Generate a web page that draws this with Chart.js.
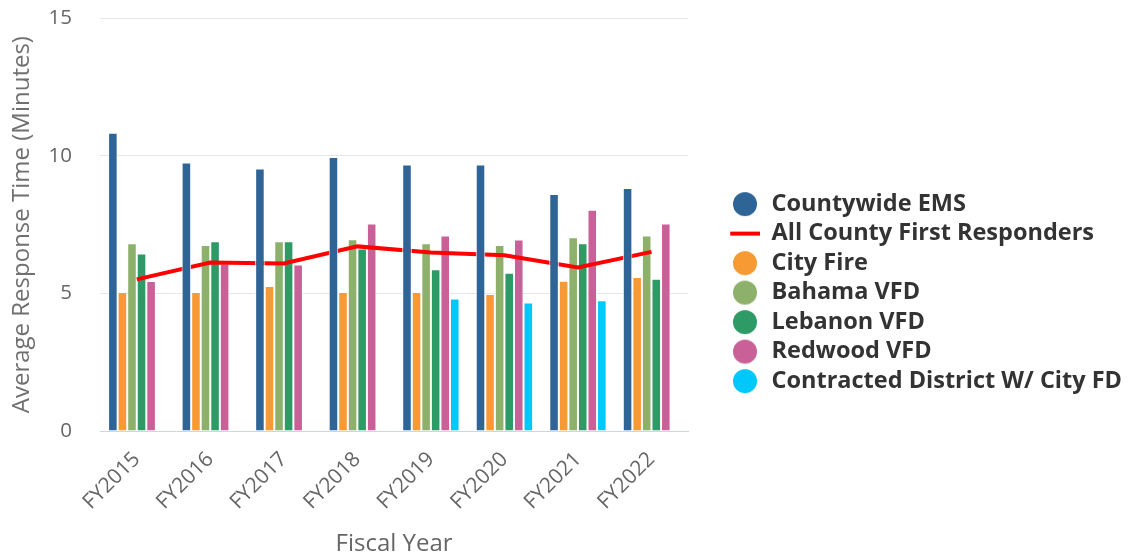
<!DOCTYPE html>
<html>
<head>
<meta charset="utf-8">
<script src="https://cdn.jsdelivr.net/npm/chart.js@4.4.1/dist/chart.umd.min.js"></script>
<style>
    html, body { margin: 0; padding: 0; background: #fff; }
</style>
</head>
<body>
<canvas id="responseChart" width="1132" height="560"></canvas>
<script>
// Chart data
const years = ['FY2015', 'FY2016', 'FY2017', 'FY2018', 'FY2019', 'FY2020', 'FY2021', 'FY2022'];
const countywideEms = [10.84, 9.76, 9.54, 9.96, 9.69, 9.69, 8.61, 8.83];
const allCounty = [5.51, 6.12, 6.09, 6.71, 6.49, 6.39, 5.94, 6.51];
const cityFire = [5.05, 5.05, 5.27, 5.05, 5.05, 4.98, 5.46, 5.60];
const bahamaVfd = [6.82, 6.76, 6.90, 6.97, 6.82, 6.76, 7.04, 7.11];
const lebanonVfd = [6.45, 6.90, 6.90, 6.63, 5.88, 5.75, 6.82, 5.53];
const redwoodVfd = [5.45, 6.09, 6.05, 7.54, 7.11, 6.96, 8.04, 7.54];
const contracted = [null, null, null, null, 4.82, 4.67, 4.75, null];
const yTicks = [0, 5, 10, 15];

Chart.defaults.font.family = "'Open Sans', sans-serif";

// legend markers: circle for bars, short line for the line series
// (drawn slightly left of the canvas centre to leave room before the text)
function makeMarker(color, isLine) {
    const c = document.createElement('canvas');
    c.width = 40;
    c.height = 26;
    const g = c.getContext('2d');
    const cx = 17;
    if (isLine) {
        g.strokeStyle = color;
        g.lineWidth = 4;
        g.beginPath();
        g.moveTo(cx - 15, 13);
        g.lineTo(cx + 15, 13);
        g.stroke();
    } else {
        g.fillStyle = color;
        g.beginPath();
        g.arc(cx, 13, 12, 0, Math.PI * 2);
        g.fill();
    }
    return c;
}

function barSet(label, data, color, order) {
    return {
        type: 'bar',
        label: label,
        data: data,
        backgroundColor: color,
        borderColor: '#ffffff',
        borderWidth: 1,
        barPercentage: 1,
        categoryPercentage: 0.78,
        order: order,
        marker: makeMarker(color, false)
    };
}

const ctx = document.getElementById('responseChart').getContext('2d');

new Chart(ctx, {
    type: 'bar',
    data: {
        labels: years,
        datasets: [
            barSet('Countywide EMS', countywideEms, '#2f6497', 0),
            {
                type: 'line',
                label: 'All County First Responders',
                data: allCounty,
                borderColor: '#ff0000',
                backgroundColor: '#ff0000',
                borderWidth: 4,
                pointRadius: 0,
                tension: 0,
                fill: false,
                order: 1,
                marker: makeMarker('#ff0000', true)
            },
            barSet('City Fire', cityFire, '#f89a34', 2),
            barSet('Bahama VFD', bahamaVfd, '#8db06b', 2),
            barSet('Lebanon VFD', lebanonVfd, '#2e9a66', 2),
            barSet('Redwood VFD', redwoodVfd, '#c96198', 2),
            barSet('Contracted District W/ City FD', contracted, '#00c8fb', 2)
        ]
    },
    options: {
        responsive: false,
        animation: false,
        layout: { padding: { top: 18, right: 0, bottom: 0, left: 0 } },
        scales: {
            x: {
                grid: { display: false },
                border: { display: true, color: '#ccd6eb', width: 1 },
                ticks: {
                    color: '#666666',
                    font: { size: 21 },
                    minRotation: 45,
                    maxRotation: 45,
                    padding: 8
                },
                title: {
                    display: true,
                    text: 'Fiscal Year',
                    color: '#666666',
                    font: { size: 24 },
                    padding: { top: 4, bottom: 1 }
                },
                afterFit: (s) => { s.height = 129; }
            },
            y: {
                min: 0,
                max: 15,
                grid: { color: '#e6e6e6', tickLength: 22, tickColor: 'rgba(0,0,0,0)' },
                border: { display: false },
                ticks: { color: '#666666', font: { size: 20.5 }, padding: 6 },
                afterBuildTicks: (s) => { s.ticks = yTicks.map(v => ({ value: v })); },
                title: {
                    display: true,
                    text: 'Average Response Time (Minutes)',
                    color: '#707070',
                    font: { size: 24 },
                    padding: { top: 8, bottom: 0 }
                },
                afterFit: (s) => { s.width = 100; }
            },
            // empty axis that keeps a gap between plot and legend
            gap: {
                axis: 'y',
                position: 'right',
                display: true,
                grid: { display: false },
                border: { display: false },
                ticks: { display: false },
                afterFit: (s) => { s.width = 42; }
            }
        },
        plugins: {
            tooltip: { enabled: false },
            legend: {
                position: 'right',
                maxWidth: 480,
                // blank title only nudges the items down a little
                title: { display: true, text: ' ', font: { size: 6 }, padding: 0 },
                labels: {
                    color: '#333333',
                    font: { size: 23.5, weight: 'bold' },
                    usePointStyle: true,
                    boxWidth: 24,
                    boxHeight: 24,
                    padding: 6,
                    generateLabels: (chart) => {
                        const items = Chart.defaults.plugins.legend.labels.generateLabels(chart);
                        items.forEach(it => {
                            it.pointStyle = chart.data.datasets[it.datasetIndex].marker;
                        });
                        return items;
                    }
                }
            }
        }
    }
});
</script>
</body>
</html>
